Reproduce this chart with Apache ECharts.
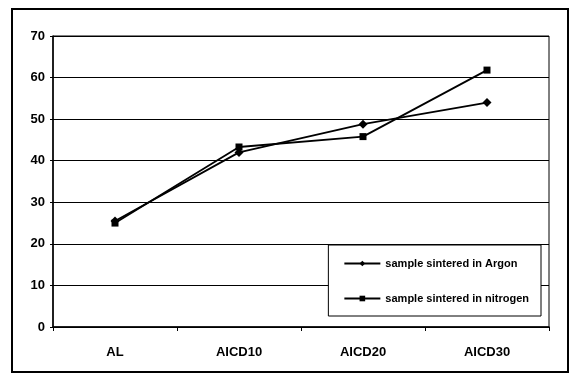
<!DOCTYPE html>
<html><head><meta charset="utf-8">
<script src="https://cdn.jsdelivr.net/npm/echarts@6/dist/echarts.min.js"></script>
<style>html,body{margin:0;padding:0;background:#fff}#c{width:570px;height:383px}</style>
</head><body><div id="c"></div>
<script>
const categories = ['AL', 'AICD10', 'AICD20', 'AICD30'];
const argon = [25.5, 42, 48.8, 54];
const nitrogen = [25, 43.3, 45.8, 61.8];
const yTicks = [0, 10, 20, 30, 40, 50, 60, 70];
const seriesNames = ['sample sintered in Argon', 'sample sintered in nitrogen'];

const chart = echarts.init(document.getElementById('c'), null, {renderer: 'canvas'});
const font = 'Liberation Sans';
chart.setOption({
  animation: false,
  backgroundColor: '#fff',
  graphic: [{
    type: 'rect', shape: {x: 12, y: 9, width: 556, height: 363},
    style: {fill: 'none', stroke: '#000', lineWidth: 2}, silent: true, z: -1
  }],
  grid: {left: 53, right: 21, top: 36, bottom: 56, show: true, borderColor: '#000', borderWidth: 1},
  xAxis: {
    type: 'category', data: categories, boundaryGap: true,
    axisLine: {lineStyle: {color: '#000', width: 1.5}},
    axisTick: {show: true, inside: false, length: 4, lineStyle: {color: '#000'}},
    axisLabel: {color: '#000', fontFamily: font, fontWeight: 'bold', fontSize: 13, margin: 19}
  },
  yAxis: {
    type: 'value', min: yTicks[0], max: yTicks[yTicks.length - 1], interval: 10,
    axisLine: {show: true, lineStyle: {color: '#000', width: 1.5}},
    axisTick: {show: true, length: 3, lineStyle: {color: '#000'}},
    splitLine: {lineStyle: {color: '#000', width: 1.2}},
    axisLabel: {color: '#000', fontFamily: font, fontWeight: 'bold', fontSize: 13, margin: 8}
  },
  legend: {
    right: 29, bottom: 67, orient: 'vertical', itemGap: 24,
    padding: [13, 12, 12, 15],
    backgroundColor: '#fff', borderColor: '#000', borderWidth: 1,
    itemWidth: 36, itemHeight: 7, itemStyle: {color: '#000'},
    textStyle: {color: '#000', fontFamily: font, fontSize: 11, fontWeight: 'bold'},
    data: seriesNames
  },
  series: [
    {name: seriesNames[0], type: 'line', data: argon, symbol: 'diamond', symbolSize: 9,
     lineStyle: {color: '#000', width: 1.8}, itemStyle: {color: '#000'}},
    {name: seriesNames[1], type: 'line', data: nitrogen, symbol: 'rect', symbolSize: 7,
     lineStyle: {color: '#000', width: 1.8}, itemStyle: {color: '#000'}}
  ]
});
</script></body></html>
